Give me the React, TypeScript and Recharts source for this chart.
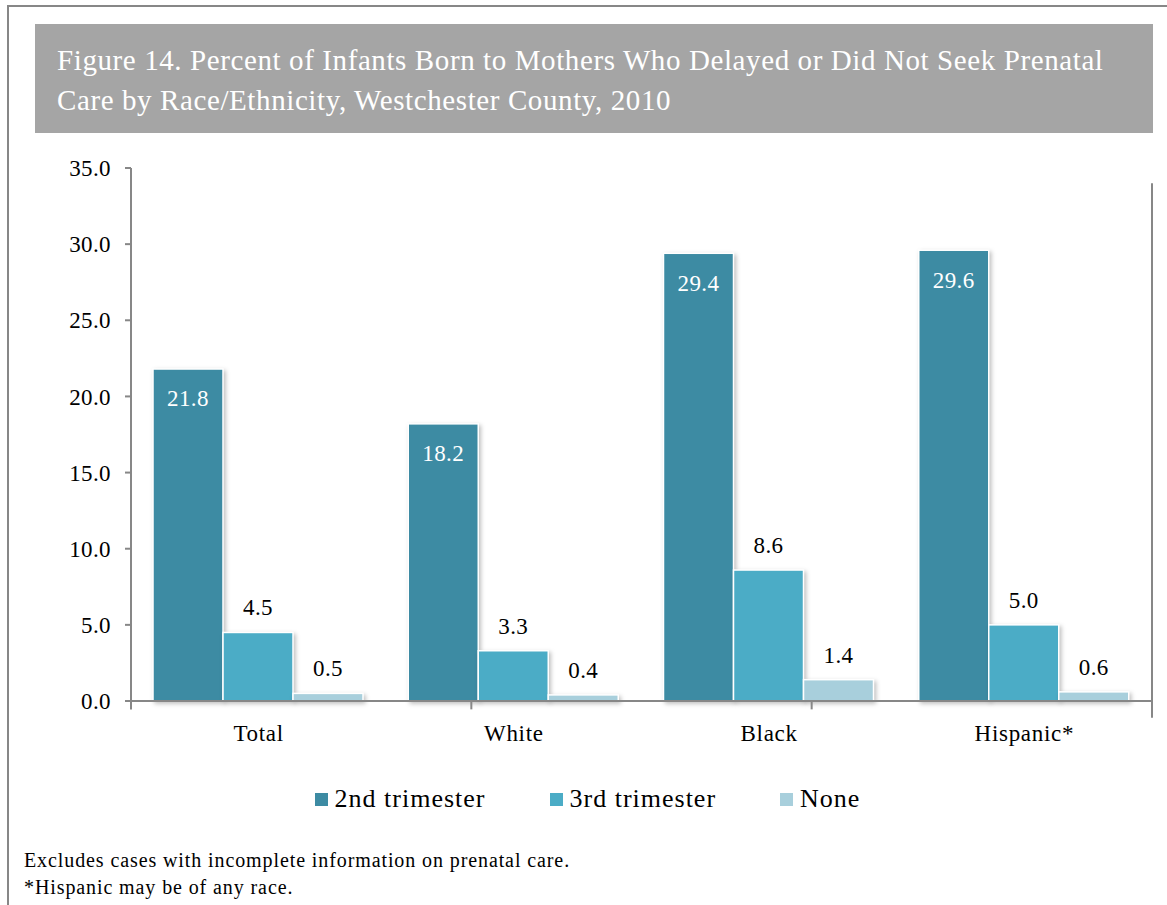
import React from 'react';
import { BarChart, Bar, XAxis, YAxis, LabelList, ReferenceLine } from 'recharts';

const categories = ['Total', 'White', 'Black', 'Hispanic*'];
const second = [21.8, 18.2, 29.4, 29.6];
const third = [4.5, 3.3, 8.6, 5.0];
const none = [0.5, 0.4, 1.4, 0.6];
const yTicks = [0, 5, 10, 15, 20, 25, 30, 35];
const seriesNames = ['2nd trimester', '3rd trimester', 'None'];
const seriesColors = ['#3D8BA3', '#4BACC6', '#A8CFDC'];
const boundaryTicks = [0, 1, 2, 3, 4];
const separatorAt = 3;

const data = categories.map((c, i) => ({ name: c, second: second[i], third: third[i], none: none[i] }));

const FONT = '"Liberation Serif", "DejaVu Serif", serif';

const BarShape = (props: any) => {
  const { x, y, width, height, fill } = props;
  if (height == null || height <= 0) return null;
  return (
    <rect x={x} y={y} width={width} height={height} fill={fill} stroke="#ffffff" strokeWidth={1.5}
      style={{ filter: 'drop-shadow(2px 2px 2px rgba(0,0,0,0.25))' }} />
  );
};

const fmt = (v: number) => v.toFixed(1);

export default function App() {
  return (
    <div style={{ position: 'absolute', left: 0, top: 0, width: 1167, height: 905, background: '#fff', fontFamily: FONT, overflow: 'hidden' }}>
      <div style={{ position: 'absolute', left: 7, top: 5, width: 1200, height: 1000, borderLeft: '2px solid #878787', borderTop: '2px solid #878787' }} />
      <div style={{ position: 'absolute', left: 35, top: 24, width: 1118, height: 109, background: '#A5A5A5', color: '#fff', fontSize: 29, letterSpacing: 0.6, lineHeight: '40px', padding: '16px 0 0 22px', boxSizing: 'border-box', whiteSpace: 'nowrap' }}>
        Figure 14. Percent of Infants Born to Mothers Who Delayed or Did Not Seek Prenatal<br />
        Care by Race/Ethnicity, Westchester County, 2010
      </div>
      <div style={{ position: 'absolute', left: 0, top: 0 }}>
        <BarChart width={1167} height={905} data={data} margin={{ top: 168, right: 15, left: 0, bottom: 144 }}
          barCategoryGap={22} barGap={0}>
          <XAxis dataKey="name" xAxisId="cat" height={60} tickLine={false} axisLine={{ stroke: '#878787', strokeWidth: 2 }}
            tick={{ fill: '#000', fontSize: 23, fontFamily: FONT, letterSpacing: 0.7 }} tickMargin={18} interval={0} />
          <XAxis xAxisId="num" type="number" domain={[0, 4]} hide />
          <YAxis domain={[0, 35]} ticks={yTicks} width={131} tickFormatter={fmt}
            axisLine={{ stroke: '#878787', strokeWidth: 2 }} tickLine={{ stroke: '#878787', strokeWidth: 2 }} tickSize={6}
            tickMargin={14} tick={{ fill: '#000', fontSize: 23, fontFamily: FONT, letterSpacing: 0.4 }} interval={0} />
          {boundaryTicks.map((b) => (
            <ReferenceLine key={b} xAxisId="num" ifOverflow="visible" stroke="#878787" strokeWidth={2}
              segment={[{ x: b, y: 0 }, { x: b, y: -0.55 }]} />
          ))}
          <ReferenceLine xAxisId="num" ifOverflow="visible" stroke="#878787" strokeWidth={2}
            segment={[{ x: separatorAt, y: -1.1 }, { x: separatorAt, y: 34 }]} />
          <Bar xAxisId="cat" dataKey="second" fill={seriesColors[0]} isAnimationActive={false} shape={BarShape}>
            <LabelList dataKey="second" position="insideTop" offset={21} fill="#fff" fontSize={23} fontFamily={FONT}
              letterSpacing={0.4} formatter={fmt} />
          </Bar>
          <Bar xAxisId="cat" dataKey="third" fill={seriesColors[1]} isAnimationActive={false} shape={BarShape}>
            <LabelList dataKey="third" position="top" offset={17} fill="#000" fontSize={23} fontFamily={FONT}
              letterSpacing={0.4} formatter={fmt} />
          </Bar>
          <Bar xAxisId="cat" dataKey="none" fill={seriesColors[2]} isAnimationActive={false} shape={BarShape}>
            <LabelList dataKey="none" position="top" offset={17} fill="#000" fontSize={23} fontFamily={FONT}
              letterSpacing={0.4} formatter={fmt} />
          </Bar>
        </BarChart>
      </div>
      <div style={{ position: 'absolute', left: 0, top: 784, width: 1175, display: 'flex', justifyContent: 'center', fontSize: 26, letterSpacing: 1.0, color: '#000' }}>
        {seriesNames.map((n, i) => (
          <div key={n} style={{ display: 'flex', alignItems: 'center', margin: '0 32px' }}>
            <span style={{ display: 'inline-block', width: 13, height: 13, background: seriesColors[i], marginRight: 7 }} />
            <span>{n}</span>
          </div>
        ))}
      </div>
      <div style={{ position: 'absolute', left: 24, top: 847, fontSize: 20, letterSpacing: 0.9, lineHeight: '27px', color: '#000', whiteSpace: 'nowrap' }}>
        Excludes cases with incomplete information on prenatal care.<br />
        *Hispanic may be of any race.
      </div>
    </div>
  );
}
